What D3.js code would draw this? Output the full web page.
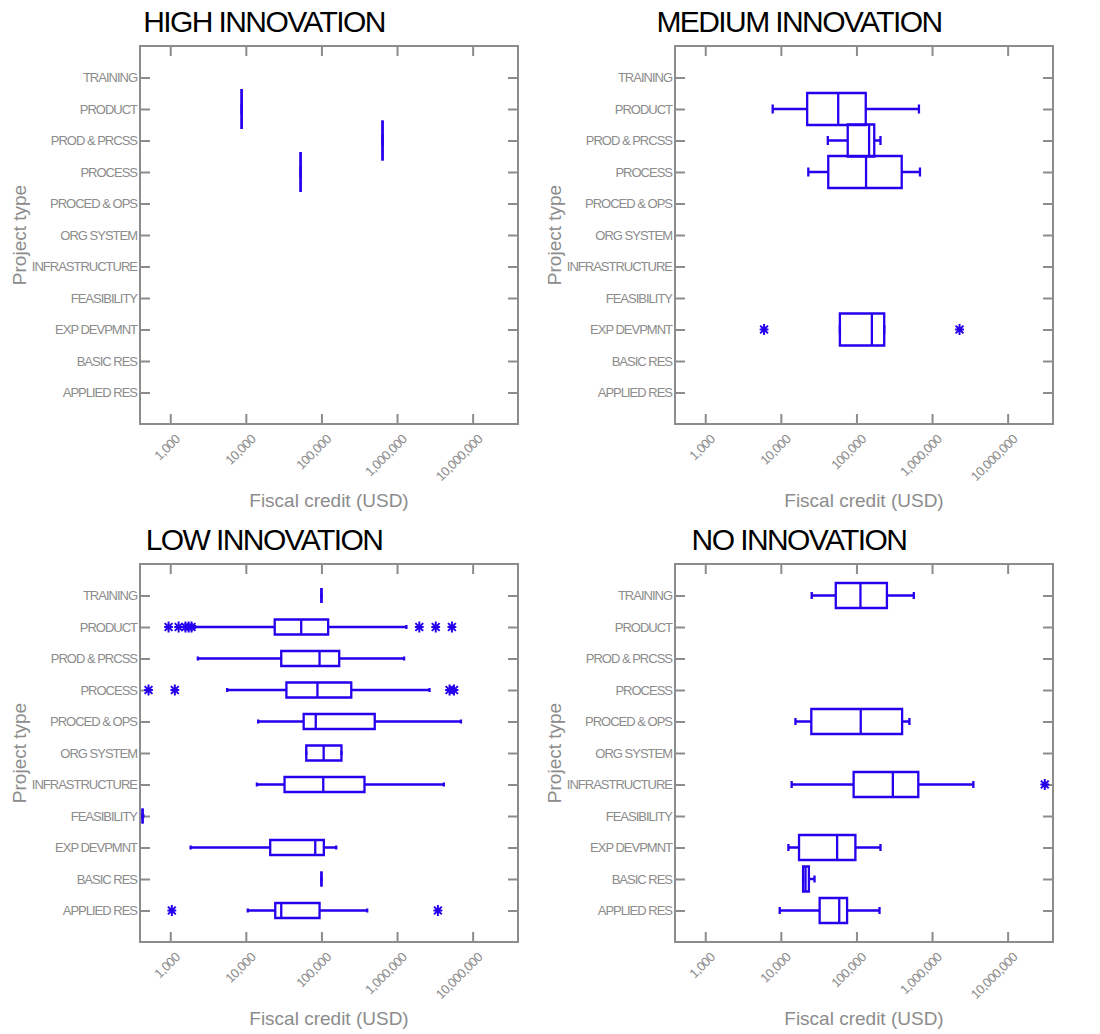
<!DOCTYPE html>
<html>
<head>
<meta charset="utf-8">
<script src="https://cdn.jsdelivr.net/npm/d3@7"></script>
<style>
  body { margin: 0; background: #fff; }
  svg { font-family: "Liberation Sans", Arial, sans-serif; }
</style>
</head>
<body>
<script>
// DATA
const categories = [
  "TRAINING", "PRODUCT", "PROD & PRCSS", "PROCESS", "PROCED & OPS", "ORG SYSTEM",
  "INFRASTRUCTURE", "FEASIBILITY", "EXP DEVPMNT", "BASIC RES", "APPLIED RES"
];
const xTicks = [1e3, 1e4, 1e5, 1e6, 1e7];
const panelTitles = ["HIGH INNOVATION", "MEDIUM INNOVATION", "LOW INNOVATION", "NO INNOVATION"];

// [category, min, q1, median, q3, max]
const highBoxes = [
  ["PRODUCT", 8800, 8800, 8800, 8800, 8800],
  ["PROD & PRCSS", 643000, 643000, 643000, 643000, 643000],
  ["PROCESS", 53000, 53000, 53000, 53000, 53000]
];
const highOutliers = [];

const mediumBoxes = [
  ["PRODUCT", 7800, 22300, 57400, 132800, 671000],
  ["PROD & PRCSS", 41800, 76700, 147000, 172000, 208000],
  ["PROCESS", 23100, 42400, 134000, 397000, 692000],
  ["EXP DEVPMNT", 60400, 60400, 160000, 233000, 233000]
];
const mediumOutliers = [["EXP DEVPMNT", 6000], ["EXP DEVPMNT", 2310000]];

const lowBoxes = [
  ["TRAINING", 100000, 100000, 100000, 100000, 100000],
  ["PRODUCT", 2130, 24100, 54000, 122700, 1330000],
  ["PROD & PRCSS", 2320, 29400, 94400, 171800, 1240000],
  ["PROCESS", 5660, 34400, 88500, 248000, 2690000],
  ["PROCED & OPS", 14560, 58200, 84100, 507000, 7000000],
  ["ORG SYSTEM", 63000, 63000, 107000, 184000, 184000],
  ["INFRASTRUCTURE", 14000, 32500, 105700, 371000, 4160000],
  ["FEASIBILITY", 430, 430, 430, 430, 440],
  ["EXP DEVPMNT", 1860, 21000, 82800, 107600, 157000],
  ["BASIC RES", 100000, 100000, 100000, 100000, 100000],
  ["APPLIED RES", 10600, 24500, 29400, 94400, 403000]
];
const lowOutliers = [
  ["PRODUCT", 950], ["PRODUCT", 1290], ["PRODUCT", 1590], ["PRODUCT", 1750], ["PRODUCT", 1910],
  ["PRODUCT", 1970000], ["PRODUCT", 3250000], ["PRODUCT", 5320000],
  ["PROCESS", 516], ["PROCESS", 1150], ["PROCESS", 4950000], ["PROCESS", 5670000],
  ["APPLIED RES", 1050], ["APPLIED RES", 3470000]
];

const noBoxes = [
  ["TRAINING", 25600, 53300, 113000, 253000, 574000],
  ["PROCED & OPS", 15600, 25300, 114000, 402000, 502000],
  ["INFRASTRUCTURE", 13900, 91800, 303000, 658000, 3520000],
  ["EXP DEVPMNT", 12600, 17400, 55500, 96900, 208000],
  ["BASIC RES", 19700, 19700, 21200, 23500, 27900],
  ["APPLIED RES", 9660, 32600, 59200, 75200, 202000]
];
const noOutliers = [["INFRASTRUCTURE", 31000000]];

// LAYOUT
const W = 378, H = 378;
const PX = [140, 675];
const PY = [46, 564];
const BLUE = "#2400ee";
const GRAY = "#8c8c8c";

const panels = [
  { title: panelTitles[0], boxes: highBoxes, outliers: highOutliers, boxH: 40 },
  { title: panelTitles[1], boxes: mediumBoxes, outliers: mediumOutliers, boxH: 32 },
  { title: panelTitles[2], boxes: lowBoxes, outliers: lowOutliers, boxH: 15 },
  { title: panelTitles[3], boxes: noBoxes, outliers: noOutliers, boxH: 25 }
];

const svg = d3.select("body").append("svg").attr("width", 1100).attr("height", 1034);

// SCALES
const x = d3.scaleLog().domain([Math.pow(10, 2.6), Math.pow(10, 7.6)]).range([0, W]);
const y = d3.scalePoint().domain(categories).range([0, H]).padding(1);

const styleAxis = (g) => {
  g.select(".domain").remove();
  g.selectAll(".tick line").attr("stroke", GRAY).attr("stroke-width", 2);
};

const asterisk = (r) => {
  const d = r * Math.SQRT1_2;
  return `M0,${-r}V${r}M${-d},${-d}L${d},${d}M${-d},${d}L${d},${-d}M${-r * 0.8},0H${r * 0.8}`;
};

panels.forEach((p, i) => {
  const g = svg.append("g")
    .attr("transform", `translate(${PX[i % 2]},${PY[Math.floor(i / 2)]})`);

  // TITLE
  g.append("text")
    .attr("x", 124).attr("y", -14)
    .attr("text-anchor", "middle")
    .attr("font-size", 30)
    .attr("letter-spacing", "-1.6px")
    .attr("fill", "#000")
    .text(p.title);

  // AXES
  g.append("g")
    .call(d3.axisLeft(y).tickSize(-10).tickPadding(3))
    .call(styleAxis)
    .selectAll("text")
    .attr("fill", GRAY).attr("font-size", 13).attr("letter-spacing", "-1px");

  g.append("g").attr("transform", `translate(${W},0)`)
    .call(d3.axisRight(y).tickSize(-10).tickFormat(""))
    .call(styleAxis);

  g.append("g")
    .call(d3.axisTop(x).tickValues(xTicks).tickSize(-10).tickFormat(""))
    .call(styleAxis);

  const bottom = g.append("g").attr("transform", `translate(0,${H})`)
    .call(d3.axisBottom(x).tickValues(xTicks).tickSize(-10).tickFormat(d3.format(",")))
    .call(styleAxis);
  bottom.selectAll("text")
    .attr("x", 0).attr("y", 0).attr("dy", 0)
    .attr("transform", "translate(10,16) rotate(-45)")
    .attr("text-anchor", "end")
    .attr("fill", GRAY).attr("font-size", 13).attr("letter-spacing", "-0.6px");

  g.append("rect")
    .attr("width", W).attr("height", H)
    .attr("fill", "none").attr("stroke", GRAY).attr("stroke-width", 2);

  // AXIS TITLES
  g.append("text")
    .attr("x", W / 2).attr("y", H + 83)
    .attr("text-anchor", "middle")
    .attr("font-size", 19).attr("fill", GRAY)
    .text("Fiscal credit (USD)");

  g.append("text")
    .attr("transform", `translate(-114,${H / 2}) rotate(-90)`)
    .attr("text-anchor", "middle")
    .attr("font-size", 19).attr("fill", GRAY)
    .text("Project type");

  // BOXES
  const h = p.boxH / 2;
  const cap = p.boxH * 0.14;
  const box = g.append("g")
    .attr("fill", "none").attr("stroke", BLUE).attr("stroke-width", 2.3);

  const item = box.selectAll("g.box")
    .data(p.boxes)
    .enter()
    .append("g")
    .attr("class", "box")
    .attr("transform", (d) => `translate(0,${y(d[0])})`);

  item.append("path")
    .attr("d", (d) =>
      `M${x(d[1])},0H${x(d[2])}M${x(d[4])},0H${x(d[5])}` +
      `M${x(d[1])},${-cap}V${cap}M${x(d[5])},${-cap}V${cap}`);

  item.append("path")
    .attr("d", (d) => `M${x(d[2])},${-h}H${x(d[4])}V${h}H${x(d[2])}Z`);

  item.append("path")
    .attr("d", (d) => `M${x(d[3])},${-h}V${h}`);

  // OUTLIERS
  box.selectAll("path.outlier")
    .data(p.outliers)
    .enter()
    .append("path")
    .attr("class", "outlier")
    .attr("transform", (d) => `translate(${x(d[1])},${y(d[0])})`)
    .attr("stroke-width", 2)
    .attr("d", asterisk(5.5));
});
</script>
</body>
</html>
